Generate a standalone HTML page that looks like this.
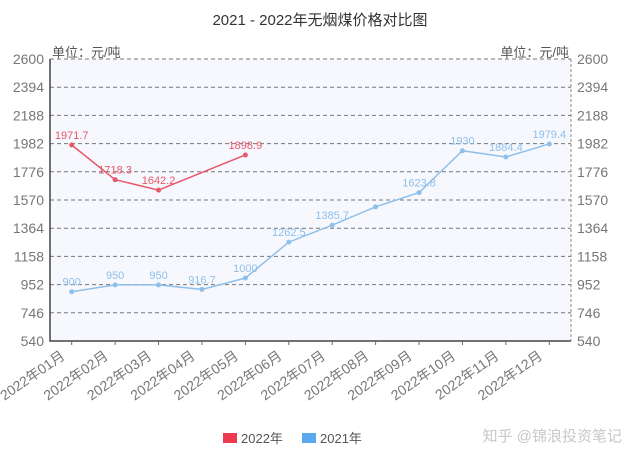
<!DOCTYPE html>
<html><head><meta charset="utf-8">
<style>
html,body{margin:0;padding:0;background:#fff;}
svg{display:block;font-family:"Liberation Sans","Noto Sans CJK SC",sans-serif;}
</style></head>
<body>
<svg id="chart" width="640" height="457" viewBox="0 0 640 457">
<text x="320" y="25" text-anchor="middle" font-size="15" fill="#333">2021 - 2022年无烟煤价格对比图</text>
<rect x="50" y="59" width="521" height="282" fill="#f7f8fd"/>
<g id="grid"></g>
<g id="yl"></g>
<g id="yr"></g>
<g id="xl"></g>
<g id="series"></g>
<text x="52" y="57" font-size="13" fill="#555">单位：元/吨</text>
<text x="569" y="57" text-anchor="end" font-size="13" fill="#555">单位：元/吨</text>
<g>
<g><rect x="223" y="433" width="14" height="10" fill="#ee3a4f"/><text x="241" y="443" font-size="13" fill="#555">2022年</text></g>
<g><rect x="302" y="433" width="14" height="10" fill="#5aa9ef"/><text x="320" y="443" font-size="13" fill="#555">2021年</text></g>
</g>
<text x="622" y="441" text-anchor="end" font-size="15" fill="#c8c8c8">知乎 @锦浪投资笔记</text>
</svg>
<script>
const categories=["2022年01月","2022年02月","2022年03月","2022年04月","2022年05月","2022年06月","2022年07月","2022年08月","2022年09月","2022年10月","2022年11月","2022年12月"];
const values2022=[1971.7,1718.3,1642.2,null,1898.9];
const labels2022=["1971.7","1718.3","1642.2","","1898.9"];
const values2021=[900,950,950,916.7,1000,1262.5,1385.7,1520,1623.8,1930,1884.4,1979.4];
const labels2021=["900","950","950","916.7","1000","1262.5","1385.7","","1623.8","1930","1884.4","1979.4"];
const yTicks=[540,746,952,1158,1364,1570,1776,1982,2188,2394,2600];
const NS="http://www.w3.org/2000/svg";
const L=50,R=571,T=59,B=341,YMIN=540,YMAX=2600;
const xs=i=>L+(R-L)/categories.length*(i+0.5);
const ys=v=>B-(v-YMIN)/(YMAX-YMIN)*(B-T);
function mk(tag,attrs,parent){const e=document.createElementNS(NS,tag);for(const k in attrs)e.setAttribute(k,attrs[k]);parent.appendChild(e);return e;}
const grid=document.getElementById('grid'),yl=document.getElementById('yl'),yr=document.getElementById('yr'),xl=document.getElementById('xl'),ser=document.getElementById('series');
yTicks.forEach(t=>{const y=ys(t);
 if(t!==YMIN){const g=mk('line',{x1:L,x2:R,y1:y,y2:y,stroke:'#777','stroke-dasharray':'4,3','stroke-width':1},grid);
 
 }
 const a=mk('text',{x:44,y:y+5,'text-anchor':'end','font-size':14,fill:'#777'},yl);a.textContent=t;
 
 
 const b=mk('text',{x:577,y:y+5,'font-size':14,fill:'#777'},yr);b.textContent=t;
 
 
});
const ax=mk('path',{d:`M${L} ${T}V${B}H${R}`,stroke:'#444','stroke-width':1.5,fill:'none'},grid);


const ra=mk('line',{x1:R,x2:R,y1:T,y2:B,stroke:'#888','stroke-dasharray':'3,2'},grid);


categories.forEach((c,i)=>{const x=xs(i);
 mk('line',{x1:x,x2:x,y1:B,y2:B+4,stroke:'#666'},xl);
 const t=mk('text',{x:x-6,y:B+17,'text-anchor':'end','font-size':14,fill:'#777',transform:`rotate(-35 ${x-6} ${B+17})`},xl);t.textContent=c;
 
 
});
function series(vals,labs,color,name){
 const pts=vals.map((v,i)=>v==null?null:xs(i)+','+ys(v)).filter(p=>p).join(' ');
 const pl=mk('polyline',{points:pts,fill:'none',stroke:color,'stroke-width':1.5},ser);
 
 
 vals.forEach((v,i)=>{
  if(v==null)return;
  const c=mk('circle',{cx:xs(i),cy:ys(v),r:2.5,fill:color},ser);
  
  
  if(labs[i]){const t=mk('text',{x:xs(i),y:ys(v)-6,'text-anchor':'middle','font-size':11,fill:color},ser);t.textContent=labs[i];
  
  }
 });
}
series(values2021,labels2021,'#8fc0ea','series-2021');
series(values2022,labels2022,'#e8586a','series-2022');
</script>
</body></html>
